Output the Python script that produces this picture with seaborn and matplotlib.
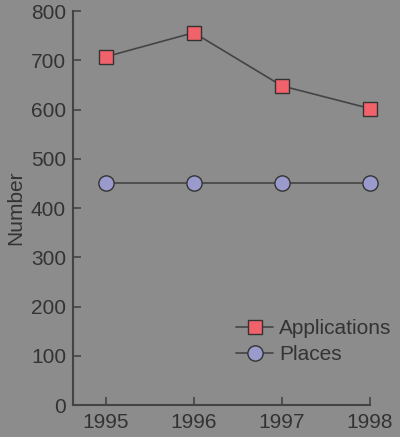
import pandas as pd
import matplotlib
matplotlib.use("Agg")
import matplotlib.pyplot as plt
import seaborn as sns

# values
years = [1995, 1996, 1997, 1998]
applications = [707, 756, 648, 602]
places = [450, 450, 450, 450]
y_ticks = [0, 100, 200, 300, 400, 500, 600, 700, 800]

bg = '#8c8c8c'
ink = '#333333'

sns.set_theme(style='ticks')
plt.rcParams['font.family'] = ['Liberation Sans', 'DejaVu Sans']

df = pd.DataFrame({'Year': years, 'Applications': applications, 'Places': places})

fig = plt.figure(figsize=(4.0, 4.37), dpi=100, facecolor=bg)
ax = fig.add_axes([0.1825, 0.0732, 0.7425, 0.9016])
ax.set_facecolor(bg)

sns.lineplot(data=df, x='Year', y='Applications', ax=ax, color='#444444', lw=1.2,
             marker='s', markersize=9.5, markerfacecolor='#f2626b',
             markeredgecolor='#333333', markeredgewidth=1.0, label='Applications',
             clip_on=False)
sns.lineplot(data=df, x='Year', y='Places', ax=ax, color='#444444', lw=1.2,
             marker='o', markersize=11, markerfacecolor='#9a9acc',
             markeredgecolor='#333333', markeredgewidth=1.0, label='Places',
             clip_on=False)

ax.set_xlim(1994.63, 1998.0)
ax.set_ylim(0, 800)
ax.set_xticks(years)
ax.set_yticks(y_ticks)
ax.set_xlabel('')
ax.set_ylabel('Number', fontsize=15, color=ink, labelpad=4)

ax.tick_params(direction='in', length=6, width=1.2, colors='#444444',
               labelcolor=ink, labelsize=15)
ax.tick_params(axis='y', pad=5)
ax.tick_params(axis='x', pad=6)
for s in ['top', 'right']:
    ax.spines[s].set_visible(False)
for s in ['left', 'bottom']:
    ax.spines[s].set_color('#444444')
    ax.spines[s].set_linewidth(1.5)

leg = ax.legend(loc='upper left', bbox_to_anchor=(0.515, 0.245), frameon=False,
                fontsize=15, handlelength=1.75, handletextpad=0.3,
                labelspacing=0.35, borderpad=0)
for t in leg.get_texts():
    t.set_color(ink)

fig.savefig('out.png', dpi=100, facecolor=bg)
